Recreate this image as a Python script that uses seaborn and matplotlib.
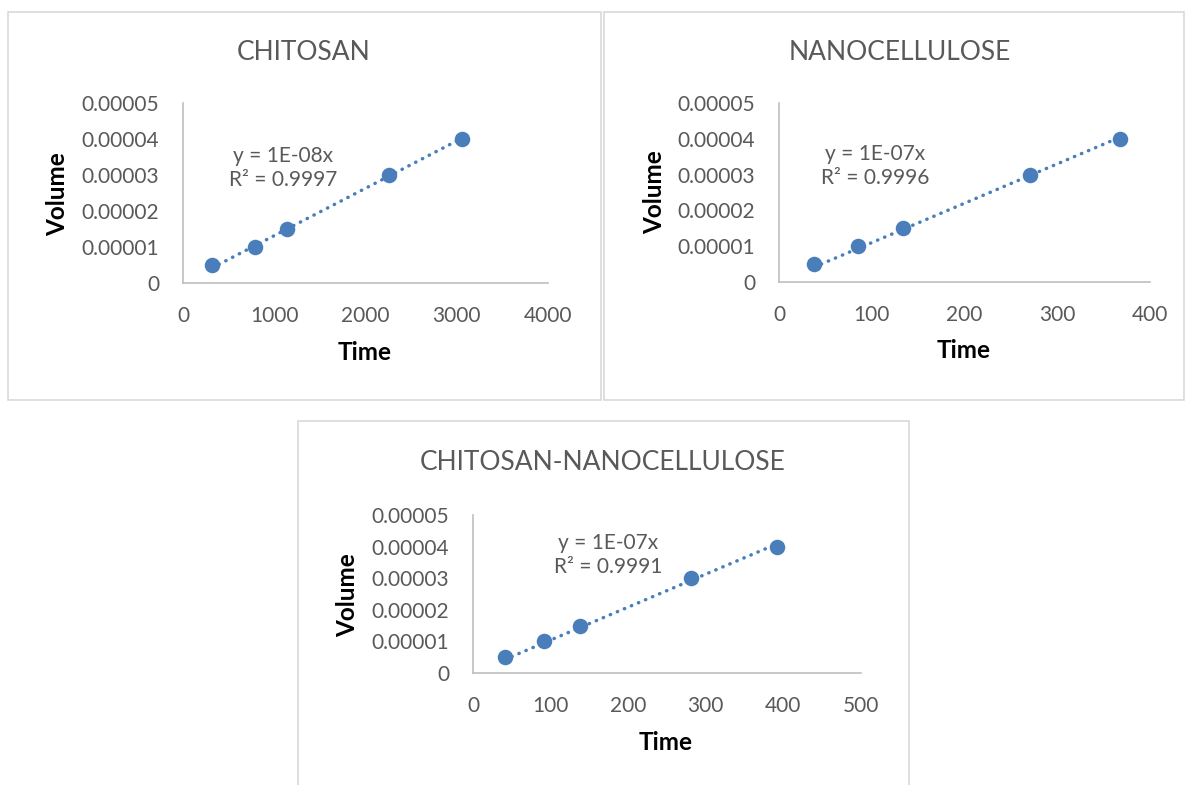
import numpy as np
import pandas as pd
import matplotlib
matplotlib.use("Agg")
import matplotlib.pyplot as plt
from matplotlib.patches import Rectangle
import seaborn as sns

# ---- data ----
chitosan_time = [320, 790, 1135, 2255, 3060]
chitosan_volume = [0.000005, 0.00001, 0.000015, 0.00003, 0.00004]
nano_time = [38, 85, 134, 271, 368]
nano_volume = [0.000005, 0.00001, 0.000015, 0.00003, 0.00004]
cn_time = [41, 92, 138, 281, 392]
cn_volume = [0.000005, 0.00001, 0.000015, 0.00003, 0.00004]

titles = ["CHITOSAN", "NANOCELLULOSE", "CHITOSAN-NANOCELLULOSE"]
equations = ["y = 1E-08x\nR² = 0.9997", "y = 1E-07x\nR² = 0.9996", "y = 1E-07x\nR² = 0.9991"]
x_ticks = [[0, 1000, 2000, 3000, 4000], [0, 100, 200, 300, 400], [0, 100, 200, 300, 400, 500]]
y_ticks = [0, 0.00001, 0.00002, 0.00003, 0.00004, 0.00005]
y_ticklabels = ["0", "0.00001", "0.00002", "0.00003", "0.00004", "0.00005"]

sns.set_theme(style="white")
plt.rcParams["font.family"] = ["Lato", "DejaVu Sans"]

W, H = 1186, 785
fig = plt.figure(figsize=(W / 100, H / 100), dpi=100)
fig.patch.set_facecolor("white")


def fx(x):
    return x / W


def fy(y):
    return 1 - y / H


# panel borders (pixel boxes: left, top, right, bottom)
for (l, t, r, b) in [(8, 12, 601, 400), (604, 12, 1184, 400), (298, 421, 909, 790)]:
    fig.add_artist(Rectangle((fx(l), fy(b)), fx(r) - fx(l), fy(t) - fy(b),
                             transform=fig.transFigure, fill=False,
                             edgecolor="#d9d9d9", linewidth=1.2))

panels = [
    dict(t=chitosan_time, v=chitosan_volume, box=(183, 103, 548, 283),
         title=(304, 52), eq=(283, 168), xl=(365, 352), yl=(58, 194)),
    dict(t=nano_time, v=nano_volume, box=(779, 103, 1150, 282),
         title=(900, 52), eq=(875, 166), xl=(964, 351), yl=(655, 192)),
    dict(t=cn_time, v=cn_volume, box=(473, 515, 861, 673),
         title=(603, 462), eq=(608, 555), xl=(666, 743), yl=(348, 595)),
]

blue = "#4a7ebb"
gray = "#595959"

for i, p in enumerate(panels):
    l, t, r, b = p["box"]
    ax = fig.add_axes([fx(l), fy(b), fx(r) - fx(l), fy(t) - fy(b)])
    df = pd.DataFrame({"Time": p["t"], "Volume": p["v"]})
    x = np.array(p["t"], dtype=float)
    y = np.array(p["v"], dtype=float)
    slope = (x * y).sum() / (x * x).sum()
    tl = pd.DataFrame({"Time": [x.min(), x.max()], "Volume": [slope * x.min(), slope * x.max()]})
    sns.lineplot(data=tl, x="Time", y="Volume", ax=ax, color=blue, linewidth=2.5,
                 linestyle=(0, (0.1, 2.1)), dash_capstyle="round", zorder=2)
    sns.scatterplot(data=df, x="Time", y="Volume", ax=ax, color=blue, s=125,
                    edgecolor=blue, linewidth=0, zorder=3)
    xt = x_ticks[i]
    ax.set_xlim(xt[0], xt[-1])
    ax.set_ylim(0, 0.00005)
    ax.set_xticks(xt)
    ax.set_xticklabels([str(v) for v in xt])
    ax.set_yticks(y_ticks)
    ax.set_yticklabels(y_ticklabels)
    ax.tick_params(axis="both", length=0, labelsize=15, colors=gray)
    ax.tick_params(axis="x", pad=16.5)
    ax.tick_params(axis="y", pad=17)
    for s in ["top", "right"]:
        ax.spines[s].set_visible(False)
    for s in ["left", "bottom"]:
        ax.spines[s].set_color("#bfbfbf")
        ax.spines[s].set_linewidth(1.2)
    ax.set_xlabel("")
    ax.set_ylabel("")
    ax.grid(False)
    ax.set_facecolor("none")
    ax.text((p["eq"][0] - l) / (r - l), (b - p["eq"][1]) / (b - t), equations[i],
            transform=ax.transAxes, ha="center", va="center", multialignment="center",
            fontsize=15, color=gray, linespacing=1.3)
    fig.text(fx(p["title"][0]), fy(p["title"][1]), titles[i], ha="center", va="center",
             fontsize=19, color=gray)
    fig.text(fx(p["xl"][0]), fy(p["xl"][1]), "Time", ha="center", va="center",
             fontsize=17.5, fontweight="bold", color="black")
    fig.text(fx(p["yl"][0]), fy(p["yl"][1]), "Volume", ha="center", va="center",
             rotation=90, fontsize=17.5, fontweight="bold", color="black")

fig.savefig("out.png", dpi=100, facecolor="white")
